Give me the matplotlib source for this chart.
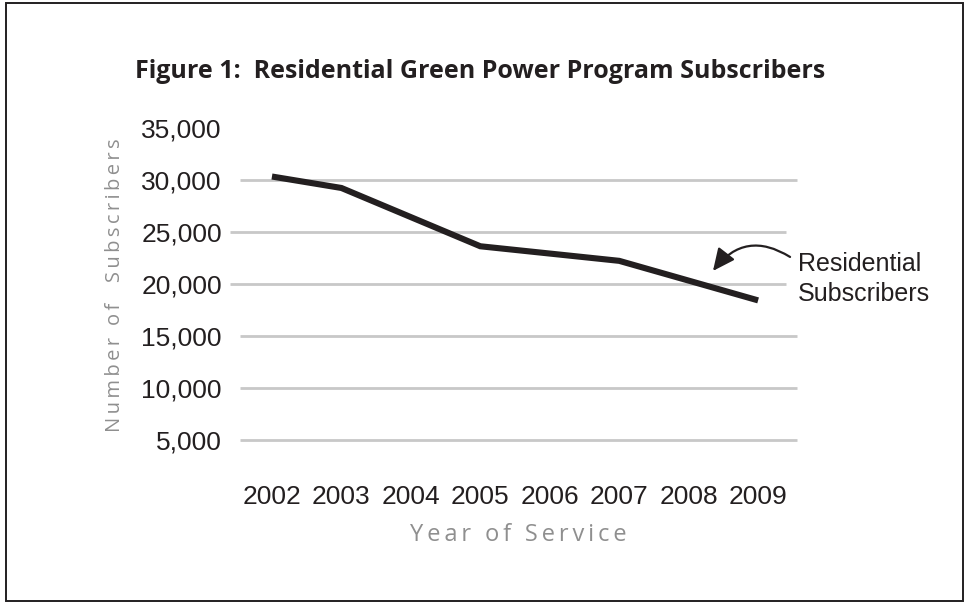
import matplotlib
matplotlib.use("Agg")
import matplotlib.pyplot as plt
from matplotlib.patches import Rectangle

years = [2002, 2003, 2004, 2005, 2006, 2007, 2008, 2009]
subscribers = [30300, 29200, 26400, 23600, 22900, 22200, 20300, 18400]
y_ticks = [5000, 10000, 15000, 20000, 25000, 30000, 35000]
y_tick_labels = ["5,000", "10,000", "15,000", "20,000", "25,000", "30,000", "35,000"]
title = "Figure 1:  Residential Green Power Program Subscribers"
x_label = "Year of Service"
y_label = "Number of  Subscribers"
series_label = "Residential\nSubscribers"

INK = "#231f20"
GRID = "#c8c8c8"
LABEL_GRAY = "#8f8f8f"
TICK_FONT = ["Liberation Sans", "DejaVu Sans"]
LIGHT_FONT = ["Open Sans", "DejaVu Sans"]


def tracked(s, sep="\u2009"):
    return sep.join(list(s))


fig = plt.figure(figsize=(9.65, 6.03), dpi=100)
fig.patch.set_facecolor("white")

# outer frame
fig.add_artist(Rectangle((6 / 965, 2 / 603), 957 / 965, 598 / 603,
                         transform=fig.transFigure, fill=False,
                         edgecolor=INK, linewidth=1.4))

ax = fig.add_axes([240 / 965, 1 - 443 / 603, 557 / 965, 315.4 / 603])
ax.plot(years, subscribers, color=INK, linewidth=4.4, solid_capstyle="butt",
        solid_joinstyle="miter", zorder=3)

ax.set_xlim(2001.54, 2009.56)
ax.set_ylim(4700, 35000)
ax.set_yticks(y_ticks)
ax.set_yticklabels(y_tick_labels)
ax.set_xticks(years)
ax.set_xticklabels([str(y) for y in years])

for s in ax.spines.values():
    s.set_visible(False)
ax.tick_params(axis="both", length=0, labelcolor=INK, labelsize=19)
ax.tick_params(axis="y", pad=13)
ax.tick_params(axis="x", pad=30)
for lab in ax.get_xticklabels() + ax.get_yticklabels():
    lab.set_family(TICK_FONT)

ytr = ax.get_yaxis_transform()
for v in y_ticks[:-1]:
    if v in (20000, 25000):
        x0, x1 = -10 / 557, 546 / 557
    else:
        x0, x1 = 0, 1
    ax.hlines(v, x0, x1, transform=ytr, color=GRID, linewidth=2.0,
              zorder=1, clip_on=False)

ax.set_xlabel(tracked(x_label), family=LIGHT_FONT, fontsize=17,
              color=LABEL_GRAY, labelpad=10)
ax.set_ylabel(tracked(y_label), family=LIGHT_FONT, fontsize=14.5,
              color=LABEL_GRAY, labelpad=12)

fig.text(480 / 965, 1 - 72 / 603, title, ha="center", va="center",
         fontsize=18, fontweight="bold", color=INK, family=LIGHT_FONT)

ax.text(2009.576, 23055, series_label, ha="left", va="top", fontsize=18,
        family=TICK_FONT, color=INK, linespacing=1.3, clip_on=False)
ax.annotate("", xy=(2008.35, 21230), xytext=(2009.46, 22575),
            textcoords="data", annotation_clip=False,
            arrowprops=dict(arrowstyle="-|>,head_length=0.75,head_width=0.35",
                            connectionstyle="arc3,rad=0.45", color=INK,
                            linewidth=1.6, shrinkA=0, shrinkB=0,
                            mutation_scale=18))

fig.savefig("out.png", dpi=100, facecolor="white")
